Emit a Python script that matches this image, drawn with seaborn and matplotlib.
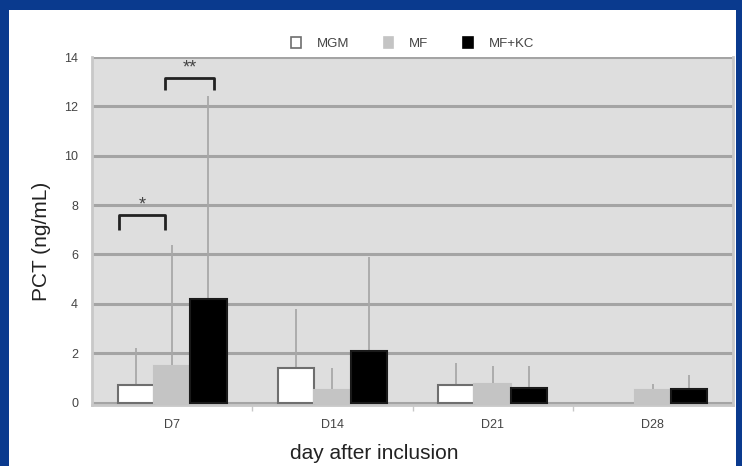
import numpy as np
import pandas as pd
import seaborn as sns
import matplotlib.pyplot as plt
from matplotlib.patches import Rectangle

# Mean PCT per group and day, with the upper error (mean + SD)
days = ["D7", "D14", "D21", "D28"]
groups = ["MGM", "MF", "MF+KC"]
mgm_mean = [0.7, 1.4, 0.7, 0.0]
mf_mean = [1.5, 0.5, 0.75, 0.5]
mfkc_mean = [4.2, 2.1, 0.6, 0.55]
mgm_upper = [2.2, 3.8, 1.6, np.nan]
mf_upper = [6.4, 1.4, 1.5, 0.75]
mfkc_upper = [12.4, 5.9, 1.5, 1.1]
y_ticks = [0, 2, 4, 6, 8, 10, 12, 14]

means = {"MGM": mgm_mean, "MF": mf_mean, "MF+KC": mfkc_mean}
uppers = {"MGM": mgm_upper, "MF": mf_upper, "MF+KC": mfkc_upper}

df = pd.DataFrame(
    [(d, g, means[g][i]) for g in groups for i, d in enumerate(days)],
    columns=["day", "group", "pct"],
)

sns.set_theme(style="white")
plt.rcParams["font.family"] = ["Liberation Sans", "DejaVu Sans"]

fig = plt.figure(figsize=(7.42, 4.66), dpi=100)
fig.patch.set_facecolor("#0a3a8e")
# white slide panel inside the blue frame
panel = Rectangle((9 / 742, 0), 727 / 742, 1 - 10 / 466,
                  transform=fig.transFigure, facecolor="white",
                  edgecolor="none", zorder=-10)
fig.add_artist(panel)

ax = fig.add_axes([92 / 742, 1 - 405 / 466, 641 / 742, 348 / 466])
ax.set_zorder(1)
ax.set_facecolor("#dedede")

palette = {"MGM": "#ffffff", "MF": "#c4c4c4", "MF+KC": "#000000"}
sns.barplot(data=df, x="day", y="pct", hue="group", order=days,
            hue_order=groups, palette=palette, errorbar=None,
            width=0.68, saturation=1, ax=ax, zorder=3)

edge = {"MGM": "#6e6e6e", "MF": "#c4c4c4", "MF+KC": "#1a1a1a"}
for g, cont in zip(groups, ax.containers):
    for i, bar in enumerate(cont.patches):
        bar.set_edgecolor(edge[g])
        bar.set_linewidth(1.5)
        if means[g][i] == 0:
            bar.set_visible(False)
        up = uppers[g][i]
        if not np.isnan(up):
            xc = bar.get_x() + bar.get_width() / 2
            ax.vlines(xc, means[g][i], up, color="#a8a8a8", lw=1.3, zorder=2)

# significance brackets on D7
d7 = [c.patches[0] for c in ax.containers]
def bracket(x0, x1, y, h, label):
    ax.plot([x0, x0, x1, x1], [y - h, y, y, y - h], color="#222222", lw=2,
            zorder=4, solid_capstyle="butt")
    ax.text((x0 + x1) / 2, y + 0.05, label, ha="center", va="bottom",
            fontsize=13, color="#444444")

bracket(d7[0].get_x() + 0.01, d7[1].get_x() + d7[1].get_width() * 0.3,
        7.6, 0.6, "*")
bracket(d7[1].get_x() + d7[1].get_width() * 0.3,
        d7[2].get_x() + d7[2].get_width() * 0.65, 13.15, 0.5, "**")

ax.set_ylim(-0.1, 14)
ax.set_xlim(-0.5, 3.5)
ax.set_yticks(y_ticks)
ax.yaxis.grid(True, color="#a4a4a4", lw=2.2)
ax.set_axisbelow(True)
for s in ["top"]:
    ax.spines[s].set_visible(False)
for s in ["left", "bottom", "right"]:
    ax.spines[s].set_color("#c8c8c8")
    ax.spines[s].set_linewidth(2)
ax.set_xticks([0.5, 1.5, 2.5], minor=True)
ax.tick_params(axis="x", which="minor", length=4, color="#c8c8c8", bottom=True)
ax.tick_params(axis="both", which="major", length=0, labelsize=9,
               labelcolor="#444444", pad=10)

ax.set_xlabel("day after inclusion", fontsize=15, color="#222222")
ax.set_ylabel("PCT (ng/mL)", fontsize=15, color="#222222")
ax.xaxis.set_label_coords(0.44, -0.112)
ax.yaxis.set_label_coords(-0.064, 0.47)

leg = ax.legend(title=None, loc="lower center", bbox_to_anchor=(0.5, 1.0),
                ncol=3, frameon=False, fontsize=9.5, handlelength=0.75,
                handleheight=0.95, columnspacing=2.6, handletextpad=1.2,
                labelcolor="#444444", borderaxespad=0.15)
for g, h in zip(groups, leg.legend_handles):
    h.set_edgecolor(edge[g] if g != "MF+KC" else "#000000")
    h.set_linewidth(1.2)

fig.savefig("out.png", dpi=100, facecolor=fig.get_facecolor())
